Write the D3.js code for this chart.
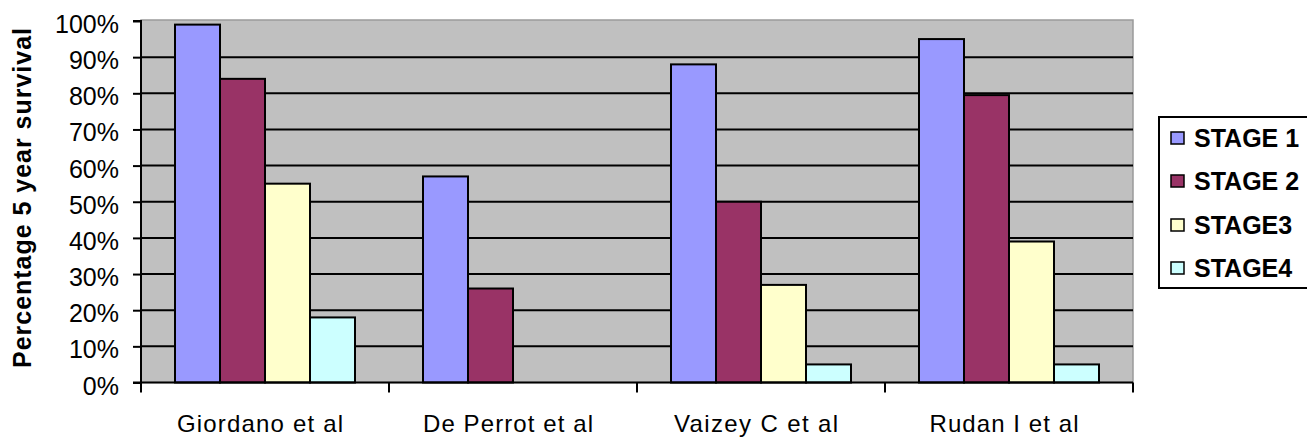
<!DOCTYPE html>
<html><head><meta charset="utf-8">
<script src="https://cdn.jsdelivr.net/npm/d3@7"></script>
<style>body{margin:0;background:#fff;} svg{display:block;}</style>
</head><body>
<svg id="c" width="1307" height="437"></svg>
<script>
const categories = ["Giordano et al", "De Perrot et al", "Vaizey C et al", "Rudan I et al"];
const seriesNames = ["STAGE 1", "STAGE 2", "STAGE3", "STAGE4"];
const stage1 = [99, 57, 88, 95];
const stage2 = [84, 26, 50, 79.5];
const stage3 = [55, null, 27, 39];
const stage4 = [18, null, 5, 5];
const yTicks = [0, 10, 20, 30, 40, 50, 60, 70, 80, 90, 100];
const colors = ["#9999FF", "#993366", "#FFFFCC", "#CCFFFF"];

const series = [stage1, stage2, stage3, stage4];
const svg = d3.select("#c");
const L = 141, R = 1133, T = 21, B = 382.5;
const font = "Arial, 'Liberation Sans', sans-serif";

const x = d3.scaleBand().domain(categories).range([L, R]).padding(0);
const y = d3.scaleLinear().domain([0, 100]).range([B, T]);

// plot background
svg.append("rect").attr("x", L).attr("y", T - 1).attr("width", R - L).attr("height", B - T + 1)
  .attr("fill", "#C0C0C0").attr("stroke", "#9a9a9a").attr("stroke-width", 1.5);

// gridlines
svg.append("g").selectAll("line").data(yTicks.filter(d => d > 0 && d < 100)).join("line")
  .attr("x1", L).attr("x2", R).attr("y1", d => y(d)).attr("y2", d => y(d))
  .attr("stroke", "#000").attr("stroke-width", 2);

// bars
const barW = 45, groupOff = (x.bandwidth() - barW * 4) / 2;
categories.forEach((c, i) => {
  series.forEach((s, j) => {
    const v = s[i];
    if (v == null) return;
    svg.append("rect")
      .attr("x", x(c) + groupOff + j * barW)
      .attr("y", y(v))
      .attr("width", barW)
      .attr("height", y(0) - y(v))
      .attr("fill", colors[j]).attr("stroke", "#000").attr("stroke-width", 2);
  });
});

// y axis
const yAxis = d3.axisLeft(y).tickValues(yTicks).tickSize(8).tickFormat(d => d + "%");
const gy = svg.append("g").attr("transform", `translate(${L},0)`).call(yAxis);
gy.select(".domain").attr("stroke", "#000").attr("stroke-width", 2).attr("d", `M-8,${T}H0V${B}`);
gy.selectAll(".tick line").attr("stroke", "#000").attr("stroke-width", 2);
gy.selectAll(".tick text").attr("font-family", font).attr("font-size", 25).attr("fill", "#000")
  .attr("x", -22).attr("dy", 11.5);

// x axis
const gx = svg.append("g").attr("transform", `translate(0,${B})`);
gx.append("line").attr("x1", L - 8).attr("x2", R).attr("y1", 0).attr("y2", 0).attr("stroke", "#000").attr("stroke-width", 2);
const bounds = categories.map(c => x(c)).concat([R]);
gx.selectAll("line.t").data(bounds).join("line").attr("class", "t")
  .attr("x1", d => d).attr("x2", d => d).attr("y1", 0).attr("y2", 10)
  .attr("stroke", "#000").attr("stroke-width", 2);
const labelW = [166, 170, 164, 149];
gx.selectAll("text").data(categories).join("text")
  .attr("x", d => x(d) + x.bandwidth() / 2 - 5).attr("y", 49.5)
  .attr("text-anchor", "middle").attr("font-family", font).attr("font-size", 24)
  .attr("textLength", (d, i) => labelW[i]).attr("lengthAdjust", "spacing")
  .attr("fill", "#000").text(d => d);

// y title
svg.append("text").attr("transform", "translate(31,198) rotate(-90)")
  .attr("text-anchor", "middle").attr("font-family", font).attr("font-size", 25)
  .attr("textLength", 340).attr("lengthAdjust", "spacing")
  .attr("font-weight", "bold").attr("fill", "#000").text("Percentage 5 year survival");

// legend
const lg = svg.append("g");
lg.append("rect").attr("x", 1159).attr("y", 117).attr("width", 160).attr("height", 171)
  .attr("fill", "#fff").attr("stroke", "#000").attr("stroke-width", 2);
const rows = [138, 181, 225, 268];
seriesNames.forEach((n, j) => {
  lg.append("rect").attr("x", 1171).attr("y", rows[j] - 6).attr("width", 13).attr("height", 12)
    .attr("fill", colors[j]).attr("stroke", "#000").attr("stroke-width", 1.5);
  lg.append("text").attr("x", 1194).attr("y", rows[j] + 9)
    .attr("font-family", font).attr("font-size", 25).attr("font-weight", "bold")
    .attr("fill", "#000").text(n);
});
</script>
</body></html>
